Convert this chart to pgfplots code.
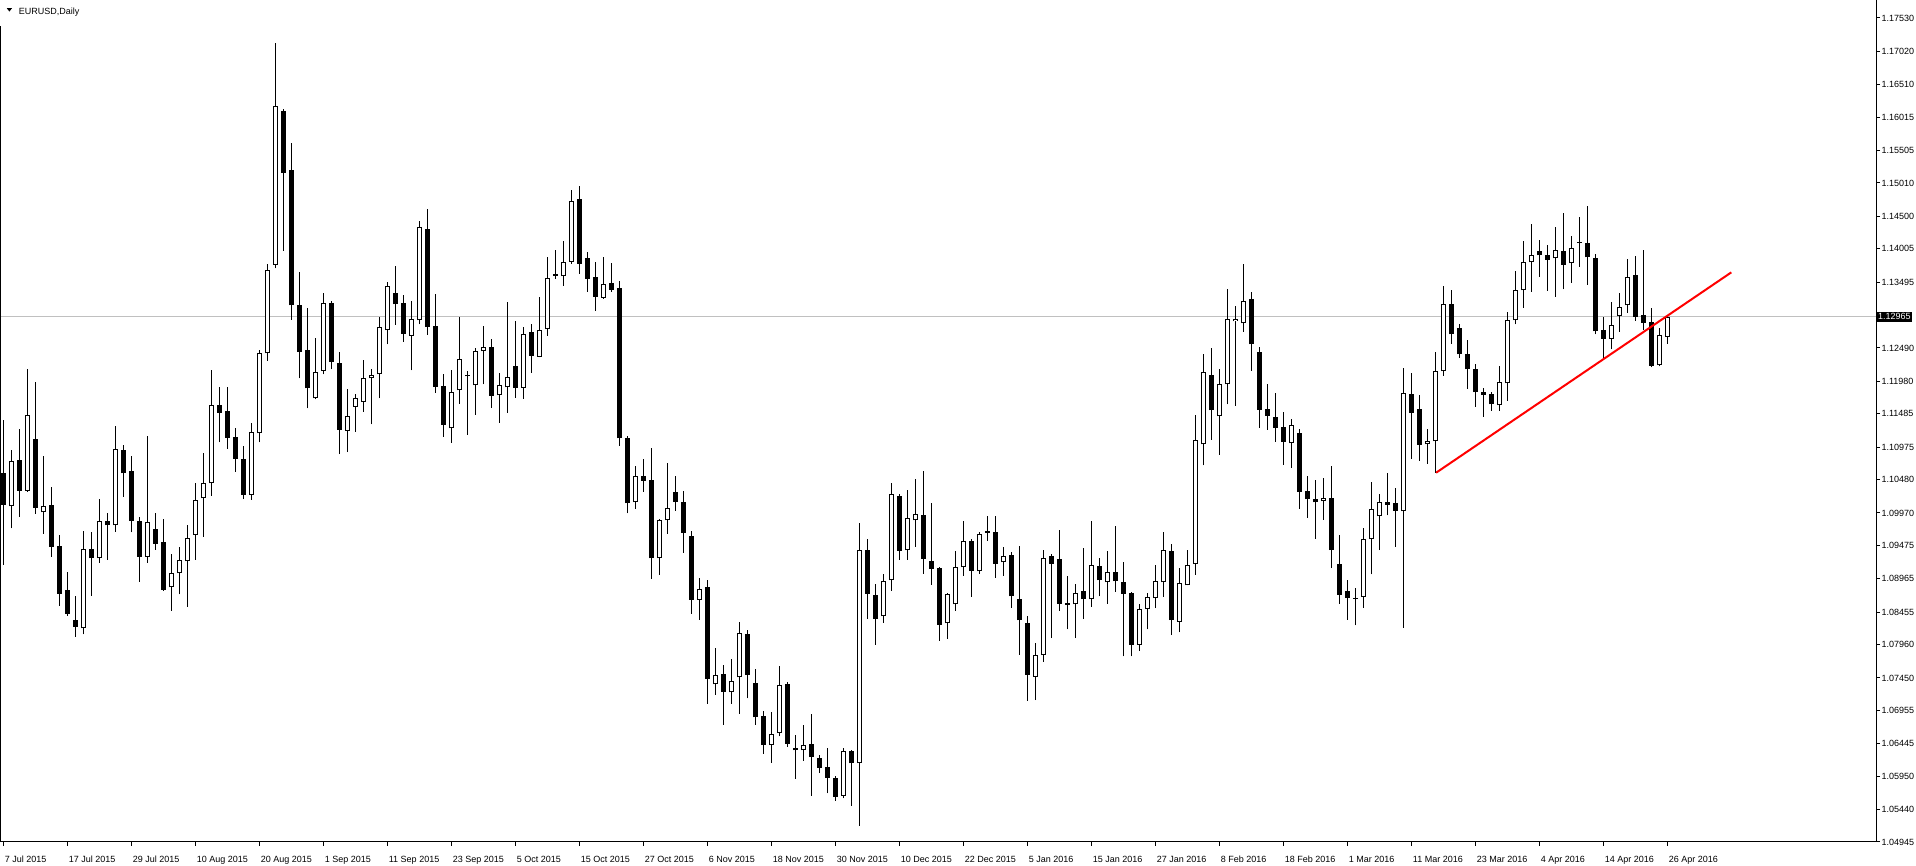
\documentclass[border=0pt]{standalone}
\usepackage{fontspec}
\setmainfont{Liberation Sans}
\usepackage{pgfplots}
\pgfplotsset{compat=1.18}
\usepackage{pgfplotstable}

% bullish (white) candles: bar index, open, high, low, close
\pgfplotstableread{
i o h l c
1 1.10072 1.10932 1.09736 1.10759
3 1.10311 1.12169 1.10296 1.11461
5 1.09980 1.10846 1.09654 1.10072
10 1.08209 1.09700 1.08117 1.09420
12 1.09278 1.10184 1.09212 1.09848
14 1.09782 1.11299 1.09685 1.10947
18 1.09303 1.11146 1.09212 1.09833
21 1.08835 1.09344 1.08474 1.09049
22 1.09049 1.09451 1.08728 1.09247
23 1.09232 1.09787 1.08540 1.09583
24 1.09639 1.10433 1.09257 1.10163
25 1.10194 1.10886 1.09609 1.10423
26 1.10423 1.12154 1.10235 1.11614
31 1.10250 1.11350 1.10170 1.11203
32 1.11187 1.12460 1.11050 1.12409
33 1.12409 1.13768 1.12297 1.13676
34 1.13758 1.17143 1.13707 1.16186
39 1.11722 1.12638 1.11707 1.12129
40 1.12139 1.13335 1.12088 1.13172
43 1.11228 1.11859 1.10900 1.11452
44 1.11595 1.11788 1.11213 1.11722
45 1.11671 1.12302 1.11518 1.12027
46 1.12027 1.12165 1.11325 1.12073
47 1.12088 1.12960 1.11722 1.12806
48 1.12760 1.13503 1.12546 1.13432
51 1.12674 1.13208 1.12149 1.12928
52 1.12913 1.14429 1.12852 1.14333
56 1.11264 1.12154 1.11045 1.11813
57 1.11844 1.12964 1.11640 1.12317
59 1.11920 1.12490 1.11472 1.12439
60 1.12439 1.12826 1.11935 1.12500
62 1.11767 1.12108 1.11350 1.11920
63 1.11890 1.13193 1.11503 1.12042
65 1.11884 1.12811 1.11717 1.12699
67 1.12358 1.13269 1.12348 1.12760
68 1.12775 1.13880 1.12678 1.13554
70 1.13585 1.14124 1.13442 1.13798
71 1.13808 1.14903 1.13778 1.14730
75 1.13259 1.13880 1.13244 1.13462
79 1.10133 1.10690 1.10036 1.10535
82 1.09278 1.09879 1.09029 1.09863
83 1.09858 1.10734 1.09655 1.10041
87 1.08647 1.08983 1.08342 1.08805
89 1.07354 1.07909 1.07196 1.07491
91 1.07232 1.07741 1.07059 1.07405
92 1.07461 1.08306 1.06906 1.08138
96 1.06423 1.06932 1.06158 1.06590
97 1.06606 1.07634 1.06560 1.07339
100 1.06346 1.06733 1.06188 1.06428
105 1.05653 1.06386 1.05612 1.06335
107 1.06147 1.09817 1.05195 1.09405
110 1.08392 1.09038 1.08295 1.08926
111 1.08942 1.10428 1.08784 1.10260
113 1.09400 1.10321 1.09257 1.09888
114 1.09858 1.10489 1.09451 1.09954
118 1.08285 1.08753 1.08051 1.08733
119 1.08575 1.09389 1.08478 1.09140
120 1.09140 1.09848 1.09013 1.09542
122 1.09079 1.09680 1.09043 1.09649
125 1.09216 1.09445 1.09013 1.09313
129 1.07470 1.07990 1.07110 1.07801
130 1.07800 1.09406 1.07700 1.09278
134 1.08576 1.08887 1.08057 1.08744
136 1.08652 1.09848 1.08540 1.09171
138 1.08912 1.09390 1.08586 1.09065
142 1.07960 1.08581 1.07860 1.08500
143 1.08500 1.08749 1.08194 1.08688
144 1.08668 1.09177 1.08515 1.08927
145 1.08912 1.09681 1.08693 1.09406
147 1.08311 1.09131 1.08148 1.08897
148 1.08866 1.09406 1.08866 1.09171
149 1.09187 1.11467 1.09024 1.11080
150 1.11019 1.12399 1.10699 1.12119
152 1.11447 1.12164 1.10861 1.11935
153 1.11935 1.13391 1.11630 1.12928
154 1.12897 1.13132 1.11610 1.12938
155 1.12867 1.13773 1.12740 1.13203
161 1.11034 1.11411 1.10663 1.11309
165 1.10149 1.10505 1.09869 1.10195
170 1.08683 1.09742 1.08525 1.09568
171 1.09568 1.10444 1.09034 1.10027
172 1.09920 1.10260 1.09401 1.10133
175 1.09996 1.12185 1.08220 1.11798
178 1.11019 1.11253 1.10724 1.11065
179 1.11065 1.12429 1.10586 1.12134
180 1.12134 1.13437 1.12068 1.13157
187 1.11615 1.12211 1.11534 1.11966
188 1.11951 1.13040 1.11686 1.12913
189 1.12913 1.13661 1.12852 1.13371
190 1.13371 1.14125 1.13107 1.13799
191 1.13799 1.14384 1.13351 1.13906
194 1.13860 1.14338 1.13275 1.13982
196 1.13784 1.14201 1.13488 1.14013
201 1.12633 1.13188 1.12470 1.12837
202 1.12985 1.13331 1.12740 1.13122
203 1.13142 1.13850 1.13030 1.13570
207 1.12226 1.12791 1.12211 1.12684
208 1.12664 1.12990 1.12557 1.12965
}\bull

% bearish (black) candles: bar index, open, high, low, close
\pgfplotstableread{
i o h l c
0 1.10576 1.11390 1.09176 1.10092
2 1.10774 1.11253 1.09914 1.10306
4 1.11100 1.11976 1.09960 1.10052
6 1.10092 1.10367 1.09298 1.09456
7 1.09466 1.09634 1.08555 1.08738
8 1.08794 1.09069 1.08402 1.08433
9 1.08336 1.08708 1.08082 1.08234
11 1.09420 1.09680 1.08708 1.09278
13 1.09848 1.09970 1.09257 1.09782
15 1.10932 1.11008 1.10219 1.10576
16 1.10611 1.10846 1.09675 1.09853
17 1.09848 1.09914 1.08922 1.09303
19 1.09726 1.09970 1.09410 1.09502
20 1.09527 1.09878 1.08779 1.08794
27 1.11620 1.11900 1.11050 1.11503
28 1.11528 1.11900 1.10950 1.11120
29 1.11126 1.11264 1.10600 1.10800
30 1.10800 1.11000 1.10180 1.10250
35 1.16104 1.16140 1.13977 1.15168
36 1.15204 1.15621 1.12918 1.13142
37 1.13142 1.13651 1.12027 1.12434
38 1.12455 1.13096 1.11569 1.11875
41 1.13172 1.13203 1.12165 1.12282
42 1.12256 1.12434 1.10870 1.11238
49 1.13330 1.13743 1.12842 1.13157
50 1.13178 1.13295 1.12587 1.12704
53 1.14302 1.14613 1.12694 1.12816
54 1.12821 1.13315 1.11808 1.11900
55 1.11910 1.12093 1.11136 1.11320
58 1.12078 1.12139 1.11167 1.12058
61 1.12505 1.12633 1.11579 1.11762
64 1.12215 1.12903 1.11732 1.11884
66 1.12734 1.12857 1.12114 1.12373
69 1.13620 1.13987 1.13549 1.13595
72 1.14765 1.14964 1.13625 1.13778
73 1.13859 1.13956 1.13350 1.13549
74 1.13569 1.13803 1.13060 1.13274
76 1.13483 1.13788 1.13350 1.13381
77 1.13401 1.13513 1.11000 1.11111
78 1.11111 1.11140 1.09965 1.10118
80 1.10535 1.10795 1.10296 1.10464
81 1.10474 1.10968 1.08968 1.09278
84 1.10286 1.10535 1.10006 1.10143
85 1.10138 1.10306 1.09365 1.09670
86 1.09620 1.09695 1.08433 1.08642
88 1.08840 1.08947 1.07059 1.07440
90 1.07507 1.07650 1.06738 1.07242
93 1.08123 1.08184 1.07140 1.07502
94 1.07374 1.07588 1.06733 1.06850
95 1.06870 1.06942 1.06295 1.06433
98 1.07359 1.07390 1.06402 1.06448
99 1.06377 1.06585 1.05913 1.06346
101 1.06443 1.06901 1.05654 1.06240
102 1.06230 1.06275 1.05995 1.06081
103 1.06096 1.06376 1.05689 1.05928
104 1.05918 1.05953 1.05577 1.05638
106 1.06335 1.06351 1.05500 1.06147
108 1.09405 1.09568 1.08356 1.08738
109 1.08718 1.08885 1.07959 1.08356
112 1.10229 1.10260 1.09257 1.09395
115 1.09939 1.10611 1.09043 1.09272
116 1.09237 1.10122 1.08875 1.09120
117 1.09130 1.09140 1.08020 1.08265
121 1.09542 1.09573 1.08692 1.09089
123 1.09690 1.09924 1.09547 1.09669
124 1.09680 1.09924 1.08982 1.09196
126 1.09328 1.09369 1.08524 1.08697
127 1.08656 1.09466 1.07806 1.08331
128 1.08290 1.08397 1.07104 1.07501
131 1.09309 1.09345 1.08060 1.09197
132 1.09268 1.09711 1.08479 1.08586
133 1.08591 1.09009 1.08194 1.08571
135 1.08775 1.09436 1.08347 1.08652
137 1.09156 1.09283 1.08698 1.08942
139 1.09065 1.09772 1.08769 1.08927
140 1.08912 1.09222 1.07780 1.08739
141 1.08749 1.08769 1.07780 1.07960
146 1.09390 1.09497 1.08103 1.08332
151 1.12073 1.12485 1.11090 1.11538
156 1.13238 1.13345 1.12144 1.12546
157 1.12429 1.12505 1.11270 1.11549
158 1.11559 1.11940 1.11240 1.11457
159 1.11431 1.11803 1.11060 1.11270
160 1.11279 1.11513 1.10709 1.11060
162 1.11187 1.11253 1.10037 1.10296
163 1.10301 1.10536 1.09899 1.10179
164 1.10179 1.10475 1.09579 1.10133
166 1.10195 1.10688 1.09126 1.09401
167 1.09187 1.09635 1.08586 1.08724
168 1.08775 1.08947 1.08342 1.08678
169 1.08678 1.08825 1.08255 1.08663
173 1.10139 1.10581 1.09935 1.10098
174 1.10118 1.10352 1.09457 1.10006
176 1.11783 1.12108 1.10800 1.11503
177 1.11554 1.11772 1.10770 1.11014
181 1.13157 1.13371 1.12557 1.12699
182 1.12791 1.12857 1.12343 1.12394
183 1.12394 1.12608 1.11870 1.12165
184 1.12170 1.12241 1.11595 1.11814
185 1.11814 1.11880 1.11442 1.11778
186 1.11783 1.11824 1.11534 1.11630
192 1.13967 1.14140 1.13580 1.13906
193 1.13906 1.14063 1.13366 1.13840
195 1.13967 1.14552 1.13387 1.13763
197 1.14106 1.14491 1.13733 1.14090
198 1.14089 1.14659 1.13458 1.13875
199 1.13860 1.13921 1.12699 1.12745
200 1.12760 1.12964 1.12338 1.12633
204 1.13600 1.13891 1.12908 1.12969
205 1.12989 1.13987 1.12766 1.12872
206 1.12883 1.13096 1.12195 1.12221
}\bear

\pgfplotsset{
  candle/.style n args={3}{draw=none, mark=none, forget plot,
    error bars/.cd, y dir=plus, y explicit, error mark=none,
    error bar style={draw=#1, line width=#2, #3}},
}

\begin{document}
\begin{tikzpicture}[font=\fontsize{4.5}{5.4}\selectfont]
\path[use as bounding box] (0,0) rectangle (958pt,433pt);
\begin{axis}[
  at={(0pt,12pt)}, anchor=south west,
  scale only axis, width=938pt, height=421pt,
  xmin=-0.4125, xmax=234.0875, ymin=1.04945, ymax=1.17805,
  clip=false,
  axis x line=bottom, axis y line=right,
  axis line style={-, black, line width=0.5pt},
  tick align=outside, major tick length=2pt,
  tick style={black, line width=0.5pt},
  xtick={0,8,...,208},
  xticklabels={7 Jul 2015, 17 Jul 2015, 29 Jul 2015, 10 Aug 2015, 20 Aug 2015, 1 Sep 2015, 11 Sep 2015, 23 Sep 2015, 5 Oct 2015, 15 Oct 2015, 27 Oct 2015, 6 Nov 2015, 18 Nov 2015, 30 Nov 2015, 10 Dec 2015, 22 Dec 2015, 5 Jan 2016, 15 Jan 2016, 27 Jan 2016, 8 Feb 2016, 18 Feb 2016, 1 Mar 2016, 11 Mar 2016, 23 Mar 2016, 4 Apr 2016, 14 Apr 2016, 26 Apr 2016},
  xticklabel style={anchor=base west, inner sep=0pt, xshift=0.6pt, yshift=-8.4pt},
  ytick={1.04945,1.05440,1.05950,1.06445,1.06955,1.07450,1.07960,1.08455,1.08965,1.09475,1.09970,1.10480,1.10975,1.11485,1.11980,1.12490,1.13495,1.14005,1.14500,1.15010,1.15505,1.16015,1.16510,1.17020,1.17530},
  yticklabels={1.04945,1.05440,1.05950,1.06445,1.06955,1.07450,1.07960,1.08455,1.08965,1.09475,1.09970,1.10480,1.10975,1.11485,1.11980,1.12490,1.13495,1.14005,1.14500,1.15010,1.15505,1.16015,1.16510,1.17020,1.17530},
  yticklabel style={anchor=west, inner sep=0pt, xshift=0.6pt},
]
% current price line
\addplot[color={rgb,255:red,192;green,192;blue,192}, line width=0.5pt, forget plot]
  coordinates {(-0.4125,1.12965) (234.0875,1.12965)};

% bullish candles: wick, outline, hollow body
\addplot[candle={black}{0.5pt}{}]
  table[x=i, y=l, y error plus expr=\thisrow{h}-\thisrow{l}] {\bull};
\addplot[candle={black}{2.5pt}{}]
  table[x=i, y=o, y error plus expr=\thisrow{c}-\thisrow{o}] {\bull};
\addplot[candle={white}{1.5pt}{shorten <=0.5pt, shorten >=0.5pt}]
  table[x=i, y=o, y error plus expr=\thisrow{c}-\thisrow{o}] {\bull};

% bearish candles: wick, filled body
\addplot[candle={black}{0.5pt}{}]
  table[x=i, y=l, y error plus expr=\thisrow{h}-\thisrow{l}] {\bear};
\addplot[candle={black}{2.5pt}{}]
  table[x=i, y=c, y error plus expr=\thisrow{o}-\thisrow{c}] {\bear};

% trend line
\addplot[color={rgb,255:red,255;green,0;blue,0}, line width=1pt, forget plot]
  coordinates {(179.1,1.10585) (216.0,1.13645)};

% current price label
\node[fill=black, text=white, anchor=west, inner xsep=0.6pt, inner ysep=0.9pt, xshift=0.3pt]
  at (axis cs:234.0875,1.12965) {1.12965};
\end{axis}
% left frame
\draw[line width=0.5pt] (0.25pt,12pt) -- (0.25pt,420pt);
% title
\fill (3.4pt,428.9pt) -- (6.0pt,428.9pt) -- (4.7pt,427.2pt) -- cycle;
\node[anchor=base west, inner sep=0pt] at (9.2pt,425.5pt) {EURUSD,Daily};
\end{tikzpicture}
\end{document}
